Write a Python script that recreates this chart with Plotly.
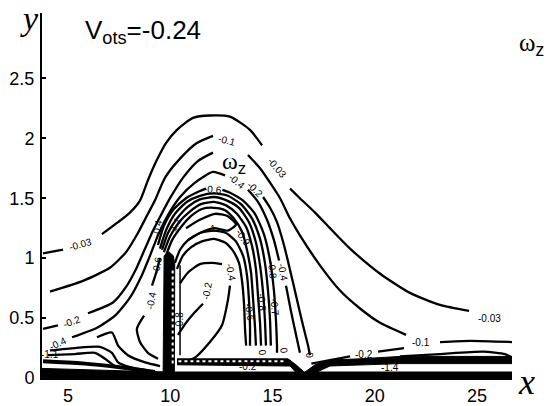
import plotly.graph_objects as go

# ---------------- axes ----------------
x_ticks = [5, 10, 15, 20, 25]
y_ticks = [0, 0.5, 1, 1.5, 2, 2.5]
y_tick_text = ["0", "0.5", "1", "1.5", "2", "2.5"]
x_range = [3.73, 26.71]
y_range = [0.0, 3.045]

# ---------------- contour lines ----------------
# level -0.03
c003a_x = [3.78, 4.76]
c003a_y = [1.04, 1.07]
c003b_x = [6.66, 7.45, 8.03, 8.52, 8.91, 9.35, 9.79, 10.33, 11.11, 11.94, 12.92, 13.90, 14.49]
c003b_y = [1.20, 1.30, 1.38, 1.48, 1.65, 1.82, 1.96, 2.07, 2.17, 2.19, 2.18, 2.07, 1.94]
c003c_x = [15.86, 16.34, 17.08, 17.81, 18.79, 20.26, 21.72, 23.19, 24.61]
c003c_y = [1.58, 1.50, 1.38, 1.25, 1.08, 0.87, 0.71, 0.61, 0.56]
# level -0.1
c01a_x = [4.12, 5.73, 7.05, 7.84, 8.42, 8.91, 9.25, 9.74, 10.48, 11.30, 12.09]
c01a_y = [0.72, 0.81, 0.92, 1.05, 1.21, 1.37, 1.48, 1.67, 1.83, 1.96, 2.02]
c01b_x = [13.80, 14.39, 14.88, 15.37, 15.86, 16.34, 17.32, 18.30, 19.28, 20.26, 21.53]
c01b_y = [1.86, 1.75, 1.63, 1.50, 1.33, 1.19, 0.94, 0.73, 0.58, 0.46, 0.36]
c01c_x = [23.19, 24.66, 26.71]
c01c_y = [0.30, 0.31, 0.30]
# level -0.2
c02a_x = [3.78, 4.51]
c02a_y = [0.41, 0.44]
c02b_x = [5.98, 7.20, 7.84, 8.33, 8.77, 9.16, 9.55, 9.99, 10.62, 11.35, 12.09]
c02b_y = [0.54, 0.63, 0.76, 0.91, 1.08, 1.23, 1.36, 1.50, 1.67, 1.81, 1.88]
c02c_x = [14.54, 14.88, 15.22, 15.56, 15.86, 16.20, 16.49, 16.74, 16.83]
c02c_y = [1.51, 1.42, 1.30, 1.11, 0.90, 0.65, 0.44, 0.27, 0.19]
c02d_x = [21.43, 20.16]
c02d_y = [0.25, 0.22]
c02e_x = [18.79, 17.81, 16.9]
c02e_y = [0.18, 0.15, 0.12]
# level -0.4
c04a_x = [5.20, 6.42, 7.30, 8.03, 8.62, 9.01, 9.40, 9.89, 10.48, 11.21, 12.09, 12.68]
c04a_y = [0.34, 0.42, 0.52, 0.67, 0.86, 1.02, 1.19, 1.36, 1.51, 1.63, 1.72, 1.69]
c04b_x = [13.80, 14.29, 14.73, 15.07, 15.32]
c04b_y = [1.57, 1.47, 1.32, 1.15, 0.98]
c04c_x = [15.66, 15.90, 16.15, 16.34]
c04c_y = [0.77, 0.56, 0.36, 0.21]
# dense horseshoe (levels -0.6 ... -1.2)
a0_x = [9.40, 9.69, 10.13, 10.77, 11.45, 11.75]
a0_y = [1.11, 1.27, 1.40, 1.50, 1.56, 1.58]
a0b_x = [12.55, 12.87, 13.56, 14.14, 14.58, 14.88, 15.07, 15.17, 15.22, 15.22]
a0b_y = [1.57, 1.55, 1.48, 1.37, 1.20, 0.98, 0.73, 0.48, 0.27, 0.21]
a1_x = [9.50, 9.79, 10.23, 10.82, 11.45, 12.14, 12.82, 13.46, 14.00, 14.39, 14.63, 14.78, 14.88, 14.92]
a1_y = [1.08, 1.23, 1.37, 1.47, 1.52, 1.54, 1.52, 1.45, 1.33, 1.16, 0.96, 0.73, 0.48, 0.27]
a2_x = [9.60, 9.89, 10.33, 10.87, 11.45, 12.14, 12.78, 13.36, 13.85, 14.19, 14.39, 14.54, 14.63, 14.68]
a2_y = [1.07, 1.21, 1.33, 1.43, 1.49, 1.51, 1.48, 1.42, 1.30, 1.13, 0.94, 0.71, 0.48, 0.27]
a3_x = [9.69, 9.99, 10.43, 10.97, 11.50, 12.14, 12.73, 13.26, 13.71, 14.00, 14.19, 14.29, 14.39, 14.44]
a3_y = [1.05, 1.18, 1.30, 1.39, 1.45, 1.47, 1.44, 1.37, 1.26, 1.10, 0.91, 0.69, 0.46, 0.27]
a4_x = [9.79, 10.09, 10.53, 11.01, 11.55, 12.14, 12.68, 13.11, 13.51, 13.75, 13.95, 14.05, 14.14, 14.19]
a4_y = [1.02, 1.15, 1.26, 1.35, 1.41, 1.42, 1.40, 1.33, 1.22, 1.07, 0.88, 0.66, 0.44, 0.27]
tongue_x = [10.77, 11.45, 12.19, 12.82, 13.21, 12.82, 12.14, 11.45, 10.87]
tongue_y = [1.25, 1.32, 1.37, 1.35, 1.28, 1.23, 1.25, 1.21, 1.15]
b0_x = [10.23, 10.48, 10.87, 11.45, 12.14, 12.73, 13.21, 13.56, 13.75, 13.85, 13.90, 13.90]
b0_y = [0.96, 1.07, 1.15, 1.21, 1.23, 1.21, 1.14, 1.02, 0.86, 0.65, 0.44, 0.27]
b1_x = [10.33, 10.62, 11.01, 11.55, 12.14, 12.68, 13.07, 13.36, 13.51, 13.61, 13.66, 13.71]
b1_y = [0.91, 1.02, 1.09, 1.14, 1.16, 1.13, 1.06, 0.96, 0.81, 0.61, 0.40, 0.27]
# inside the horseshoe
h1_x = [10.48, 10.87, 11.45, 12.04, 12.53]
h1_y = [0.79, 0.88, 0.95, 0.96, 0.95]
h2_x = [12.92, 12.82, 12.53, 11.94, 11.21, 10.62]
h2_y = [0.77, 0.65, 0.44, 0.30, 0.17, 0.13]
h3_x = [10.38, 10.77, 11.21, 11.60]
h3_y = [0.36, 0.46, 0.55, 0.62]
h4_x = [10.48, 10.48]
h4_y = [0.94, 0.19]
# left of the plate
w1a_x = [9.11, 9.35, 9.50]
w1a_y = [0.77, 0.90, 1.00]
w1b_x = [8.72, 8.37, 8.52, 8.91, 9.40]
w1b_y = [0.52, 0.41, 0.30, 0.21, 0.16]
w2_x = [6.42, 7.15, 7.45, 7.93, 8.77, 9.50]
w2_y = [0.34, 0.38, 0.27, 0.19, 0.13, 0.10]
l1_x = [4.12, 5.34, 6.56, 7.15, 7.45, 8.03, 9.01]
l1_y = [0.23, 0.25, 0.26, 0.21, 0.13, 0.09, 0.06]
l2_x = [4.02, 5.34, 6.32, 6.81, 7.30, 8.52]
l2_y = [0.19, 0.20, 0.21, 0.16, 0.10, 0.06]
# thin contour above the right band
r02_x = [21.23, 23.19, 25.29, 26.37, 26.71]
r02_y = [0.18, 0.20, 0.22, 0.20, 0.17]

# ---------------- solid black regions ----------------
thick_left_x = [3.78, 5.83, 7.54, 9.25]
thick_left_y = [0.14, 0.12, 0.09, 0.05]
bottom_x = [3.73, 26.71, 26.71, 3.73]
bottom_y = [0.0, 0.0, 0.05, 0.05]
left_wedge_x = [3.73, 9.7, 9.7, 3.73]
left_wedge_y = [0.0, 0.0, 0.05, 0.08]
plate_x = [9.65, 10.20, 10.22, 10.15, 9.95, 9.70, 9.65]
plate_y = [0.0, 0.0, 0.95, 1.02, 1.05, 1.02, 0.0]
mid_band_x = [10.33, 15.76, 16.15, 16.54, 16.34, 15.86, 10.33]
mid_band_y = [0.16, 0.16, 0.11, 0.05, 0.01, 0.10, 0.11]
right_band_x = [16.59, 17.08, 17.81, 19.28, 21.23, 26.71, 26.71, 21.23, 17.81, 16.93]
right_band_y = [0.05, 0.11, 0.15, 0.16, 0.18, 0.18, 0.12, 0.12, 0.10, 0.03]
dots_mid_x = [10.4, 15.6]
dots_mid_y = [0.14, 0.14]
dots_plate_x = [10.12, 10.12]
dots_plate_y = [0.12, 0.92]

# ---------------- contour labels ----------------
lab_text = ["-0.03", "-0.03", "-0.03", "-0.1", "-0.1", "-0.2", "-0.2", "-0.2",
            "-0.4", "-0.4", "-0.4", "-0.4", "-0.4", "-0.6", "-0.6", "-0.2",
            "-0.8", "-0.8", "-0.7", "-0.9", "-1", "-1.1", "-1.4", "-0.2",
            "-1.1", "-0.4", "-0.6", "-0.8", "0", "0", "0"]
lab_x = [5.59, 15.22, 25.59, 12.78, 22.26, 5.20, 14.14, 19.47,
         4.51, 13.26, 15.51, 9.06, 12.97, 12.09, 13.90, 11.80,
         15.02, 14.49, 15.12, 13.56, 12.04, 10.23, 20.75, 13.80,
         4.12, 9.35, 9.35, 10.43, 16.83, 14.49, 15.56]
lab_y = [1.11, 1.76, 0.50, 1.98, 0.30, 0.47, 1.57, 0.20,
         0.29, 1.64, 0.88, 0.65, 0.88, 1.57, 0.55, 0.73,
         0.90, 0.63, 0.59, 1.17, 1.25, 1.27, 0.09, 0.10,
         0.20, 1.25, 0.94, 0.48, 0.19, 0.21, 0.23]
lab_angle = [-15, 50, 0, 15, 0, -20, 45, 0,
             -25, 40, 80, -80, 80, 5, 80, -80,
             85, 85, 85, 55, -10, -60, 0, 0,
             0, -80, -80, -90, 80, 80, 80]

lines = [
    (c003a_x, c003a_y), (c003b_x, c003b_y), (c003c_x, c003c_y),
    (c01a_x, c01a_y), (c01b_x, c01b_y), (c01c_x, c01c_y),
    (c02a_x, c02a_y), (c02b_x, c02b_y), (c02c_x, c02c_y), (c02d_x, c02d_y), (c02e_x, c02e_y),
    (c04a_x, c04a_y), (c04b_x, c04b_y), (c04c_x, c04c_y),
    (a0_x, a0_y), (a0b_x, a0b_y), (a1_x, a1_y), (a2_x, a2_y), (a3_x, a3_y), (a4_x, a4_y),
    (tongue_x, tongue_y), (b0_x, b0_y), (b1_x, b1_y),
    (h1_x, h1_y), (h2_x, h2_y), (h3_x, h3_y),
    (w1a_x, w1a_y), (w1b_x, w1b_y), (w2_x, w2_y), (l1_x, l1_y), (l2_x, l2_y),
    (r02_x, r02_y),
]

fig = go.Figure()

for xs, ys in lines:
    fig.add_trace(go.Scatter(x=xs, y=ys, mode="lines",
                             line=dict(color="black", width=2.3, shape="spline", smoothing=0.6),
                             hoverinfo="skip", showlegend=False))

fig.add_trace(go.Scatter(x=h4_x, y=h4_y, mode="lines", line=dict(color="black", width=1.5),
                         hoverinfo="skip", showlegend=False))
fig.add_trace(go.Scatter(x=thick_left_x, y=thick_left_y, mode="lines",
                         line=dict(color="black", width=4, shape="spline"),
                         hoverinfo="skip", showlegend=False))

for xs, ys in [(bottom_x, bottom_y), (left_wedge_x, left_wedge_y), (plate_x, plate_y),
               (mid_band_x, mid_band_y), (right_band_x, right_band_y)]:
    fig.add_trace(go.Scatter(x=xs, y=ys, mode="lines", fill="toself", fillcolor="black",
                             line=dict(color="black", width=1),
                             hoverinfo="skip", showlegend=False))

for xs, ys in [(dots_mid_x, dots_mid_y), (dots_plate_x, dots_plate_y)]:
    fig.add_trace(go.Scatter(x=xs, y=ys, mode="lines",
                             line=dict(color="white", width=2, dash="dot"),
                             hoverinfo="skip", showlegend=False))

annotations = []
for t, xx, yy, a in zip(lab_text, lab_x, lab_y, lab_angle):
    annotations.append(dict(x=xx, y=yy, xref="x", yref="y", text=t, showarrow=False,
                            textangle=a, font=dict(family="Liberation Sans", size=10, color="black")))

annotations += [
    dict(x=0.087, y=0.948, xref="paper", yref="paper", xanchor="left", yanchor="middle",
         text="V<sub>ots</sub>=-0.24", showarrow=False,
         font=dict(family="Liberation Sans", size=26, color="black")),
    dict(x=1.010, y=0.915, xref="paper", yref="paper", xanchor="left", yanchor="middle",
         text="ω<sub><span style='font-family:Liberation Sans'>z</span></sub>", showarrow=False,
         font=dict(family="Liberation Serif", size=25, color="black")),
    dict(x=12.45, y=1.79, xref="x", yref="y", xanchor="left", yanchor="middle",
         text="ω<sub><span style='font-family:Liberation Sans'>z</span></sub>", showarrow=False,
         font=dict(family="Liberation Serif", size=24, color="black")),
    dict(x=-0.026, y=0.985, xref="paper", yref="paper", xanchor="center", yanchor="middle",
         text="<i>y</i>", showarrow=False,
         font=dict(family="Liberation Serif", size=34, color="black")),
    dict(x=1.03, y=-0.072, xref="paper", yref="paper", xanchor="center", yanchor="bottom",
         text="<i>x</i>", showarrow=False,
         font=dict(family="Liberation Serif", size=36, color="black")),
]

fig.update_layout(
    width=552, height=406,
    margin=dict(l=42, r=40, t=13, b=28, autoexpand=False),
    paper_bgcolor="white", plot_bgcolor="white",
    annotations=annotations,
    xaxis=dict(range=x_range, tickvals=x_ticks, ticks="", showgrid=False, zeroline=False,
               showline=True, linecolor="black", linewidth=2,
               tickfont=dict(family="Liberation Sans", size=18, color="black"),
               ticklabelstandoff=0),
    yaxis=dict(range=y_range, tickvals=y_ticks, ticktext=y_tick_text, ticks="inside",
               ticklen=4, tickwidth=1.5, tickcolor="black", showgrid=False, zeroline=False,
               showline=True, linecolor="black", linewidth=2,
               tickfont=dict(family="Liberation Sans", size=18, color="black"),
               ticklabelstandoff=2),
)

fig.write_html("out.html")
